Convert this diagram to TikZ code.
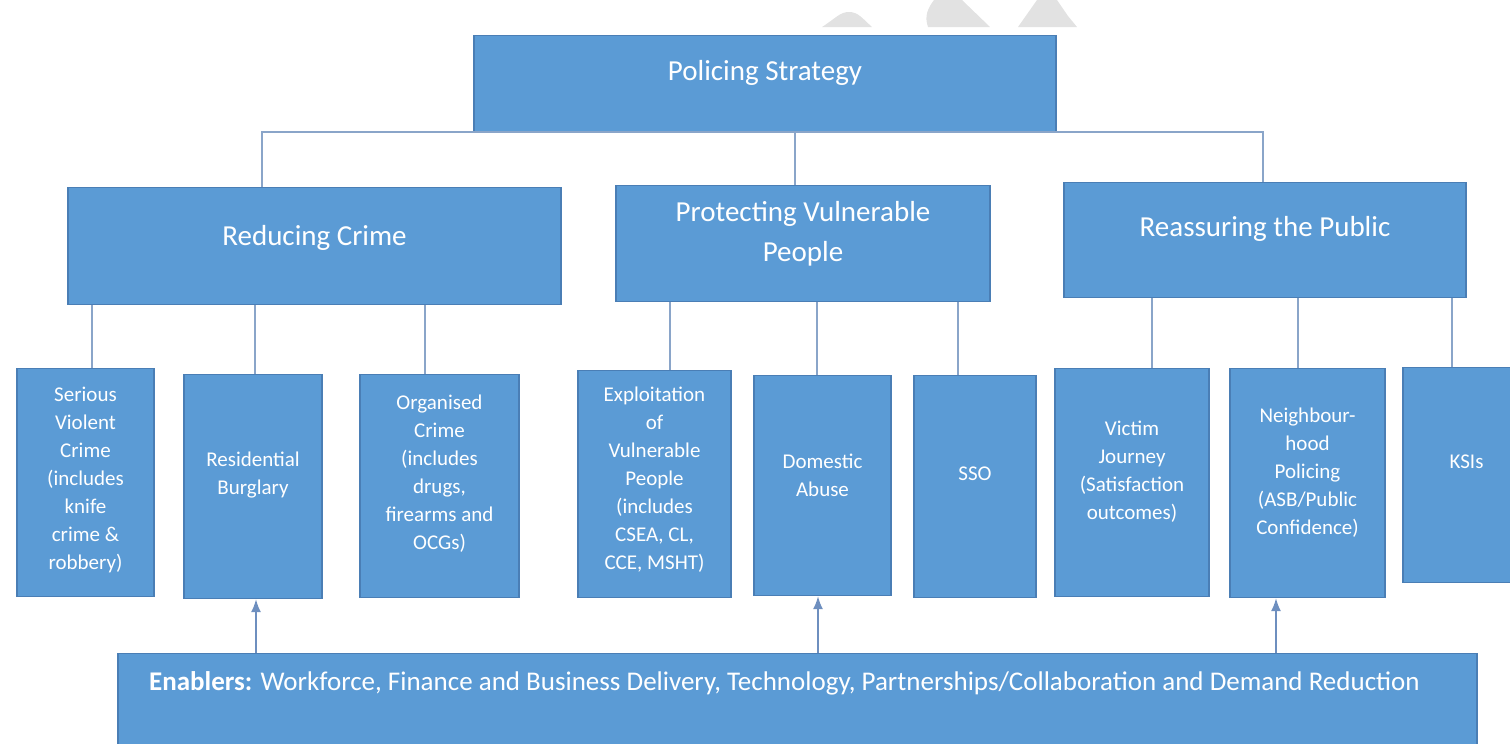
\documentclass[tikz,border=0pt]{standalone}
\usepackage{fontspec}
\setmainfont{Carlito}
\usetikzlibrary{arrows.meta}

\definecolor{boxblue}{HTML}{5B9BD5}
\definecolor{boxedge}{HTML}{4A7EB5}
\definecolor{linkblue}{HTML}{8AA5C9}
\definecolor{feedblue}{HTML}{6E8FBF}
\definecolor{markgray}{HTML}{E2E2E2}

\begin{document}
\begin{tikzpicture}
        [
            x = 1pt, y = -1pt,
            boxed/.style    = {shape=rectangle, draw=boxedge, line width=1.2pt, fill=boxblue,
                               text=white, align=center, inner sep=0pt, anchor=north},
            headbox/.style  = {boxed, font=\fontsize{29}{40}\selectfont},
            leafbox/.style  = {boxed, font=\fontsize{21}{28}\selectfont},
            link/.style     = {draw=linkblue, line width=1.6pt},
            feed/.style     = {draw=feedblue, line width=1.6pt, -{Latex[length=13pt, width=10pt]}},
        ]
        \useasboundingbox (0,0) rectangle (1510,744);

        % faint marks along the top edge
        \fill[markgray] (822,27) .. controls (836,18) and (840,12) .. (849,12)
                        .. controls (858,12) and (862,18) .. (872,27) -- cycle;
        \fill[markgray] (928,27) .. controls (924,16) and (928,8) .. (934,0)
                        -- (962,0) -- (990,27) -- cycle;
        \fill[markgray] (1018,27) -- (1037,0) -- (1057,0) -- (1068,16) -- (1077,27) -- cycle;

        % top and second level
        \node [headbox, minimum width=582, text height=45, text depth=51] (strategy) at (765,35) {Policing Strategy};
        \node [headbox, minimum width=493, text height=58, text depth=59] (reduce) at (314.5,187) {Reducing Crime};
        \node [headbox, minimum width=374, text height=76, text depth=40] (protect) at (803,185) {Protecting Vulnerable\\People};
        \node [headbox, minimum width=402, text height=54, text depth=61] (reassure) at (1265,182) {Reassuring the Public};

        % third level (multi-line text sits on its last baseline)
        \node [leafbox, minimum width=137, text height=201, text depth=27] (violent) at (85.5,368)
            {Serious\\Violent\\Crime\\(includes\\knife\\crime \&\\robbery)};
        \node [leafbox, minimum width=138, text height=120, text depth=104] (burglary) at (253,374)
            {Residential\\Burglary};
        \node [leafbox, minimum width=159, text height=175, text depth=48] (organised) at (439.5,374)
            {Organised\\Crime\\(includes\\drugs,\\firearms and\\OCGs)};
        \node [leafbox, minimum width=153, text height=199, text depth=28] (exploit) at (654.5,370)
            {Exploitation\\of\\Vulnerable\\People\\(includes\\CSEA, CL,\\CCE, MSHT)};
        \node [leafbox, minimum width=137, text height=121, text depth=99] (domestic) at (822.5,375)
            {Domestic\\Abuse};
        \node [leafbox, minimum width=122, text height=105, text depth=117] (sso) at (975,375) {SSO};
        \node [leafbox, minimum width=154, text height=151, text depth=77] (victim) at (1132,368)
            {Victim\\Journey\\(Satisfaction\\outcomes)};
        \node [leafbox, minimum width=155, text height=166, text depth=63] (hood) at (1307.5,368)
            {Neighbour-\\hood\\Policing\\(ASB/Public\\Confidence)};
        \node [leafbox, minimum width=127, text height=101, text depth=114] (ksi) at (1466.5,367) {KSIs};

        % enablers bar
        \node [boxed, font=\fontsize{27}{32}\selectfont, minimum width=1359, text height=37, text depth=110]
            (enablers) at (797.5,653)
            {\textbf{Enablers:} Workforce, Finance and Business Delivery, Technology, Partnerships/Collaboration and Demand Reduction\hspace{26pt}};

        \draw [link] (262,0 |- reduce.north) |- (strategy.south) -| (1263,0 |- reassure.north);
        \draw [link] (795,0 |- strategy.south) -- (795,0 |- protect.north);

        \foreach \p/\c/\x in {reduce/violent/92, reduce/burglary/255, reduce/organised/425,
                              protect/exploit/670, protect/domestic/817, protect/sso/958,
                              reassure/victim/1152, reassure/hood/1298, reassure/ksi/1452}
            \draw [link] (\x,0 |- \p.south) -- (\x,0 |- \c.north);

        \foreach \c/\x in {burglary/256, domestic/818, hood/1276}
            \draw [feed] (\x,0 |- enablers.north) -- (\x,0 |- \c.south);
    \end{tikzpicture}
\end{document}
